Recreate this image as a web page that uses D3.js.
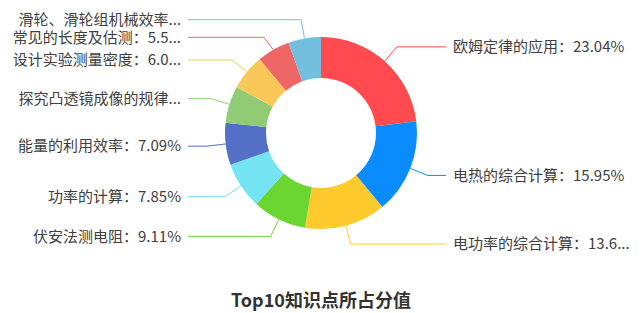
<!DOCTYPE html>
<html><head><meta charset="utf-8">
<script src="https://cdn.jsdelivr.net/npm/d3@7"></script>
<style>body{margin:0;background:#fff}svg{display:block}</style>
</head><body>
<svg id="c" width="642" height="313"></svg>
<script>
const categories = ["欧姆定律的应用","电热的综合计算","电功率的综合计算","伏安法测电阻","功率的计算","能量的利用效率","探究凸透镜成像的规律","设计实验测量密度","常见的长度及估测","滑轮、滑轮组机械效率"];
const values = [23.04, 15.95, 13.68, 9.11, 7.85, 7.09, 6.21, 6.04, 5.52, 5.51];
const colors = ["#ff4a4f","#0a8cff","#ffca2c","#6bd631","#74e3f2","#5470c6","#91cc75","#fac858","#ee6666","#73c0de"];
const title = "Top10知识点所占分值";

const W = 642, H = 313, cx = 321, cy = 133, r0 = 55, r1 = 96, rBend = 115;
const leftEnd = 188, rightEnd = 446, gap = 7, lineH = 17.6;
const maxLeft = 172, maxRight = 177;
const FONT = '"Microsoft YaHei","Noto Sans CJK SC","Noto Sans",sans-serif';

const svg = d3.select("#c");
const g = svg.append("g").attr("transform", `translate(${cx},${cy})`);
const arcs = d3.pie().value(d => d).sort(null)(values);
const arc = d3.arc().innerRadius(r0).outerRadius(r1);

g.selectAll("path.slice").data(arcs).enter().append("path")
  .attr("class","slice").attr("d", arc).attr("fill", (d,i) => colors[i]);

// label layout
const items = arcs.map((d,i) => {
  const a = (d.startAngle + d.endAngle)/2;
  const right = Math.sin(a) >= 0;
  return {i, a, right,
    px: Math.sin(a)*r1, py: -Math.cos(a)*r1,
    bx: Math.sin(a)*rBend, by: -Math.cos(a)*rBend,
    text: categories[i] + "：" + values[i].toFixed(2) + "%"};
});
[true,false].forEach(side => {
  const s = items.filter(d => d.right === side).sort((a,b) => a.by - b.by);
  for (let k = 1; k < s.length; k++) {
    if (s[k].by < s[k-1].by + lineH) s[k].by = s[k-1].by + lineH;
  }
});

const lab = svg.append("g");
items.forEach(d => {
  const col = colors[d.i];
  const ex = d.right ? rightEnd : leftEnd;
  const ly = cy + d.by;
  lab.append("polyline")
    .attr("points", `${cx+d.px},${cy+d.py} ${cx+d.bx},${ly} ${ex},${ly}`)
    .attr("fill","none").attr("stroke", col).attr("stroke-width", 1);
  const t = lab.append("text")
    .attr("x", d.right ? ex + gap : ex - gap)
    .attr("y", ly).attr("dy","0.35em")
    .attr("text-anchor", d.right ? "start" : "end")
    .attr("font-family", FONT).attr("font-size", 15).attr("fill", "#404040")
    .text(d.text);
  const maxW = d.right ? maxRight : maxLeft;
  if (t.node().getComputedTextLength() > maxW) {
    let s = d.text;
    while (s.length > 1) {
      s = s.slice(0, -1);
      t.text(s + "...");
      if (t.node().getComputedTextLength() <= maxW) break;
    }
  }
});

svg.append("text").attr("x", W/2).attr("y", 301).attr("dy","0.35em")
  .attr("text-anchor","middle").attr("font-family", FONT)
  .attr("font-size", 18).attr("font-weight","bold").attr("fill","#333")
  .text(title);
</script>
</body></html>
